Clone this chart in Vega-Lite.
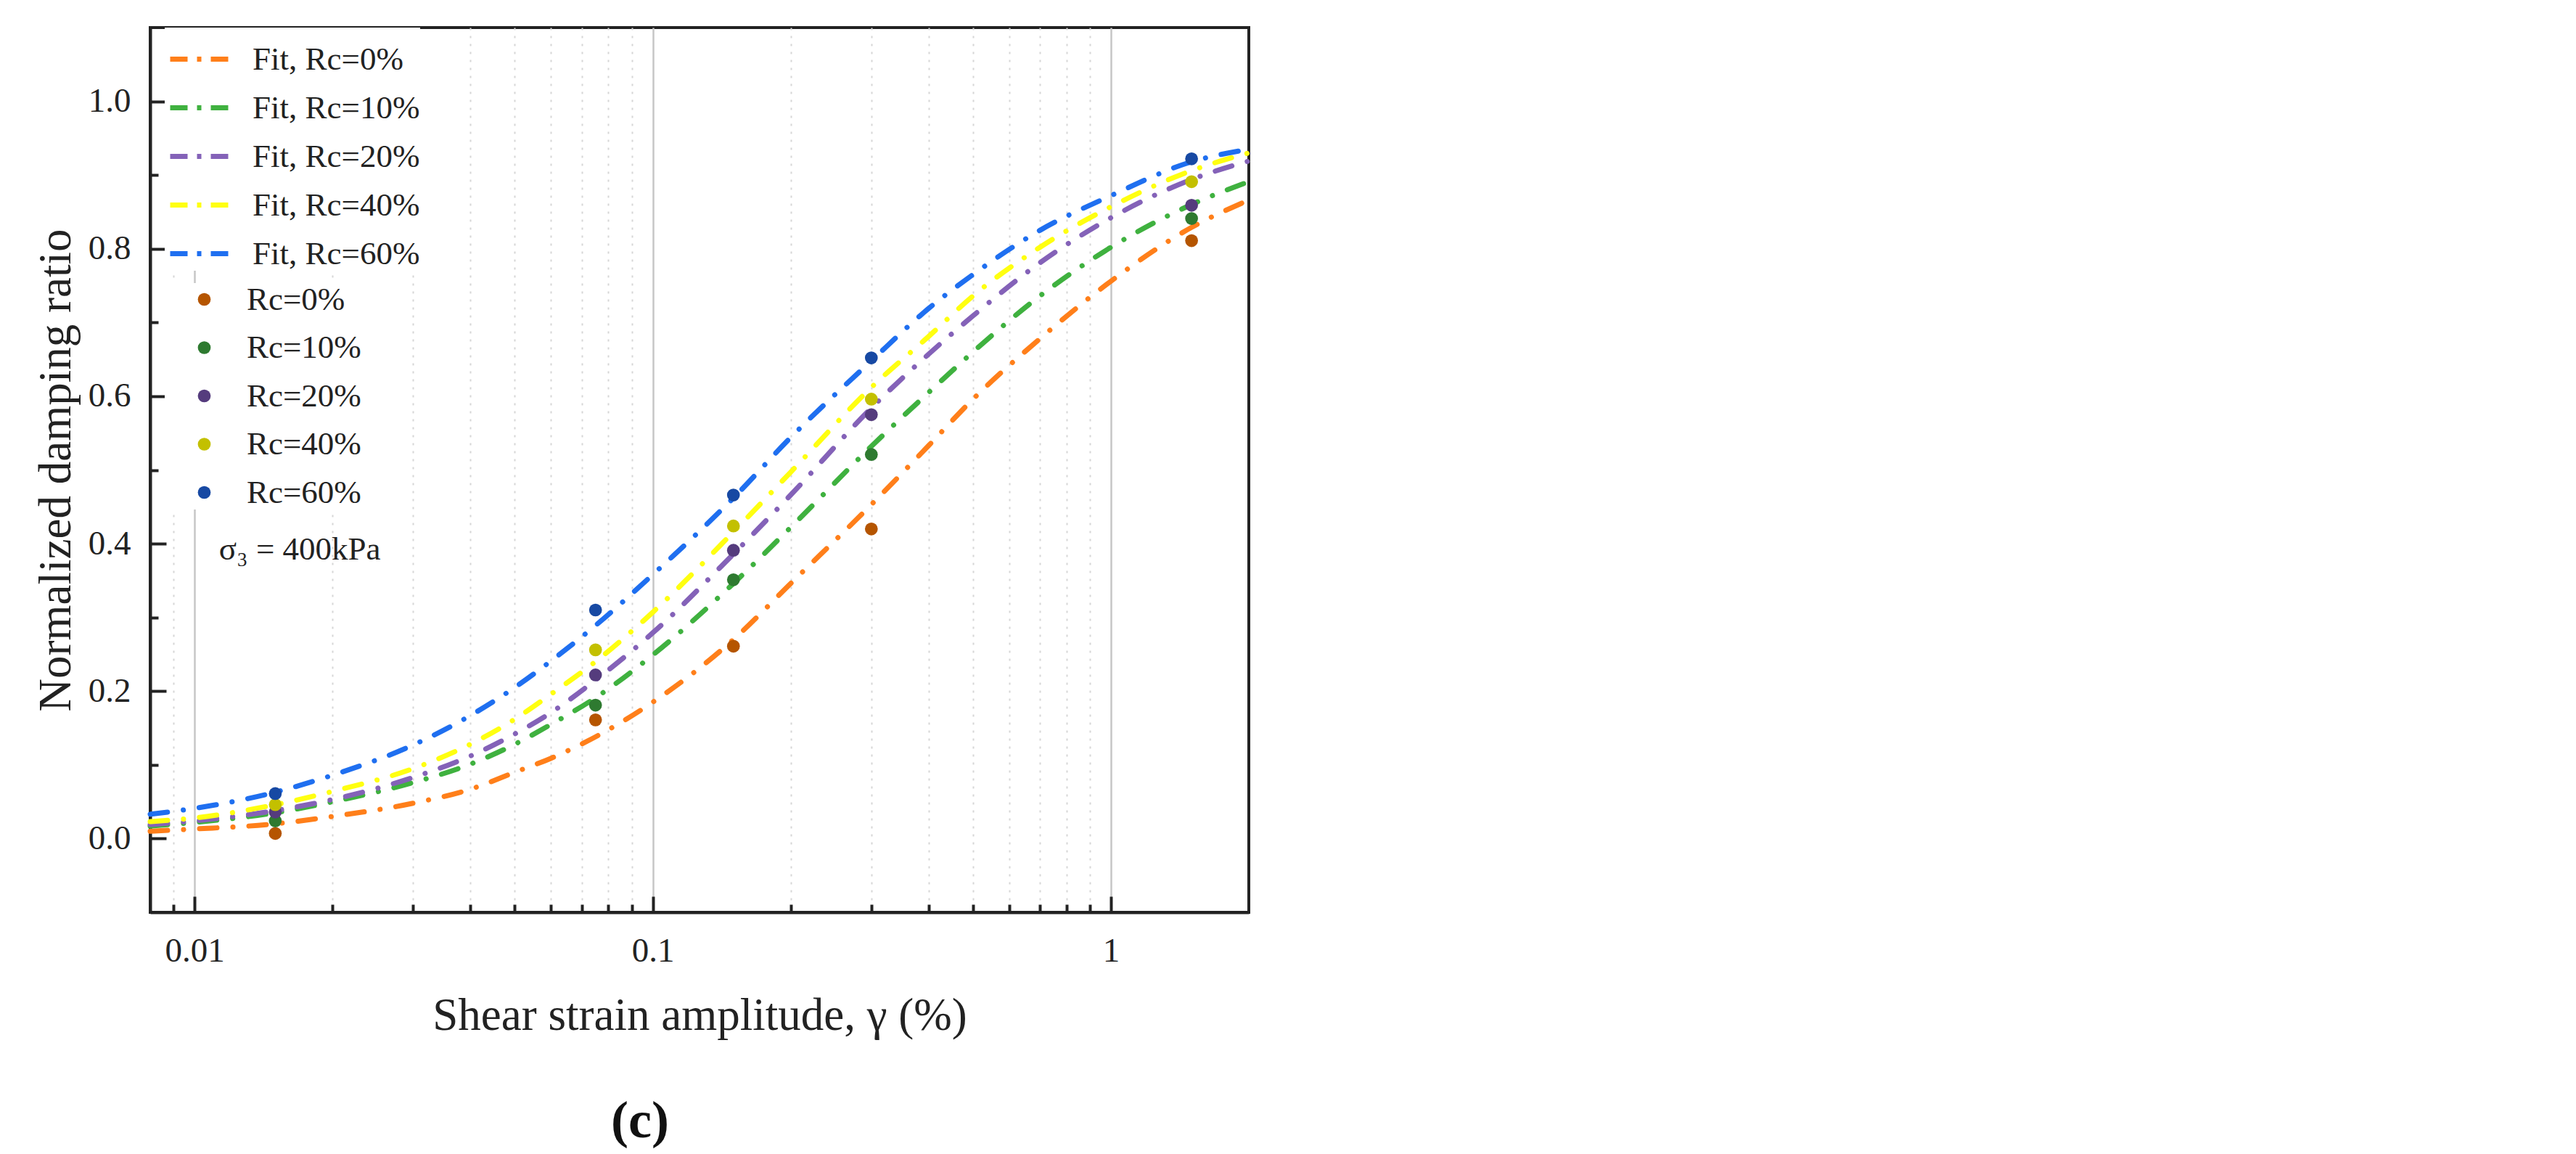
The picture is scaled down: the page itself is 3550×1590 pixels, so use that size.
{
  "$schema": "https://vega.github.io/schema/vega-lite/v6.json",
  "description": "Normalized damping ratio vs shear strain amplitude, fitted curves and test points for five Rc levels.",
  "autosize": {"type": "none"},
  "padding": {"left": 207, "top": 38, "right": 1829, "bottom": 333},
  "width": 1514,
  "height": 1219,
  "background": "white",
  "title": {
    "text": "(c)",
    "orient": "bottom",
    "anchor": "middle",
    "dx": -82,
    "offset": 79,
    "font": "Liberation Serif",
    "fontSize": 72,
    "fontWeight": "bold",
    "color": "#111"
  },
  "datasets": {
    "fits": [
      {"series": "Fit, Rc=0%", "strain": 0.008, "ratio": 0.010},
      {"series": "Fit, Rc=0%", "strain": 0.01, "ratio": 0.013},
      {"series": "Fit, Rc=0%", "strain": 0.015, "ratio": 0.020},
      {"series": "Fit, Rc=0%", "strain": 0.02, "ratio": 0.030},
      {"series": "Fit, Rc=0%", "strain": 0.03, "ratio": 0.048},
      {"series": "Fit, Rc=0%", "strain": 0.04, "ratio": 0.067},
      {"series": "Fit, Rc=0%", "strain": 0.05, "ratio": 0.090},
      {"series": "Fit, Rc=0%", "strain": 0.06, "ratio": 0.109},
      {"series": "Fit, Rc=0%", "strain": 0.075, "ratio": 0.138},
      {"series": "Fit, Rc=0%", "strain": 0.1, "ratio": 0.185},
      {"series": "Fit, Rc=0%", "strain": 0.15, "ratio": 0.270},
      {"series": "Fit, Rc=0%", "strain": 0.2, "ratio": 0.346},
      {"series": "Fit, Rc=0%", "strain": 0.3, "ratio": 0.453},
      {"series": "Fit, Rc=0%", "strain": 0.4, "ratio": 0.533},
      {"series": "Fit, Rc=0%", "strain": 0.5, "ratio": 0.596},
      {"series": "Fit, Rc=0%", "strain": 0.7, "ratio": 0.678},
      {"series": "Fit, Rc=0%", "strain": 1, "ratio": 0.756},
      {"series": "Fit, Rc=0%", "strain": 1.5, "ratio": 0.829},
      {"series": "Fit, Rc=0%", "strain": 2, "ratio": 0.866},
      {"series": "Fit, Rc=10%", "strain": 0.008, "ratio": 0.017},
      {"series": "Fit, Rc=10%", "strain": 0.01, "ratio": 0.022},
      {"series": "Fit, Rc=10%", "strain": 0.015, "ratio": 0.035},
      {"series": "Fit, Rc=10%", "strain": 0.02, "ratio": 0.050},
      {"series": "Fit, Rc=10%", "strain": 0.03, "ratio": 0.076},
      {"series": "Fit, Rc=10%", "strain": 0.04, "ratio": 0.101},
      {"series": "Fit, Rc=10%", "strain": 0.05, "ratio": 0.128},
      {"series": "Fit, Rc=10%", "strain": 0.06, "ratio": 0.155},
      {"series": "Fit, Rc=10%", "strain": 0.075, "ratio": 0.191},
      {"series": "Fit, Rc=10%", "strain": 0.1, "ratio": 0.249},
      {"series": "Fit, Rc=10%", "strain": 0.15, "ratio": 0.346},
      {"series": "Fit, Rc=10%", "strain": 0.2, "ratio": 0.422},
      {"series": "Fit, Rc=10%", "strain": 0.3, "ratio": 0.532},
      {"series": "Fit, Rc=10%", "strain": 0.4, "ratio": 0.605},
      {"series": "Fit, Rc=10%", "strain": 0.5, "ratio": 0.660},
      {"series": "Fit, Rc=10%", "strain": 0.7, "ratio": 0.736},
      {"series": "Fit, Rc=10%", "strain": 1, "ratio": 0.802},
      {"series": "Fit, Rc=10%", "strain": 1.5, "ratio": 0.860},
      {"series": "Fit, Rc=10%", "strain": 2, "ratio": 0.891},
      {"series": "Fit, Rc=20%", "strain": 0.008, "ratio": 0.019},
      {"series": "Fit, Rc=20%", "strain": 0.01, "ratio": 0.024},
      {"series": "Fit, Rc=20%", "strain": 0.015, "ratio": 0.038},
      {"series": "Fit, Rc=20%", "strain": 0.02, "ratio": 0.053},
      {"series": "Fit, Rc=20%", "strain": 0.03, "ratio": 0.083},
      {"series": "Fit, Rc=20%", "strain": 0.04, "ratio": 0.112},
      {"series": "Fit, Rc=20%", "strain": 0.05, "ratio": 0.142},
      {"series": "Fit, Rc=20%", "strain": 0.06, "ratio": 0.171},
      {"series": "Fit, Rc=20%", "strain": 0.075, "ratio": 0.215},
      {"series": "Fit, Rc=20%", "strain": 0.1, "ratio": 0.279},
      {"series": "Fit, Rc=20%", "strain": 0.15, "ratio": 0.386},
      {"series": "Fit, Rc=20%", "strain": 0.2, "ratio": 0.466},
      {"series": "Fit, Rc=20%", "strain": 0.3, "ratio": 0.584},
      {"series": "Fit, Rc=20%", "strain": 0.4, "ratio": 0.657},
      {"series": "Fit, Rc=20%", "strain": 0.5, "ratio": 0.709},
      {"series": "Fit, Rc=20%", "strain": 0.7, "ratio": 0.781},
      {"series": "Fit, Rc=20%", "strain": 1, "ratio": 0.842},
      {"series": "Fit, Rc=20%", "strain": 1.5, "ratio": 0.894},
      {"series": "Fit, Rc=20%", "strain": 2, "ratio": 0.919},
      {"series": "Fit, Rc=40%", "strain": 0.008, "ratio": 0.023},
      {"series": "Fit, Rc=40%", "strain": 0.01, "ratio": 0.028},
      {"series": "Fit, Rc=40%", "strain": 0.015, "ratio": 0.046},
      {"series": "Fit, Rc=40%", "strain": 0.02, "ratio": 0.064},
      {"series": "Fit, Rc=40%", "strain": 0.03, "ratio": 0.095},
      {"series": "Fit, Rc=40%", "strain": 0.04, "ratio": 0.128},
      {"series": "Fit, Rc=40%", "strain": 0.05, "ratio": 0.162},
      {"series": "Fit, Rc=40%", "strain": 0.06, "ratio": 0.196},
      {"series": "Fit, Rc=40%", "strain": 0.075, "ratio": 0.240},
      {"series": "Fit, Rc=40%", "strain": 0.1, "ratio": 0.307},
      {"series": "Fit, Rc=40%", "strain": 0.15, "ratio": 0.416},
      {"series": "Fit, Rc=40%", "strain": 0.2, "ratio": 0.497},
      {"series": "Fit, Rc=40%", "strain": 0.3, "ratio": 0.612},
      {"series": "Fit, Rc=40%", "strain": 0.4, "ratio": 0.681},
      {"series": "Fit, Rc=40%", "strain": 0.5, "ratio": 0.736},
      {"series": "Fit, Rc=40%", "strain": 0.7, "ratio": 0.802},
      {"series": "Fit, Rc=40%", "strain": 1, "ratio": 0.857},
      {"series": "Fit, Rc=40%", "strain": 1.5, "ratio": 0.906},
      {"series": "Fit, Rc=40%", "strain": 2, "ratio": 0.930},
      {"series": "Fit, Rc=60%", "strain": 0.008, "ratio": 0.033},
      {"series": "Fit, Rc=60%", "strain": 0.01, "ratio": 0.041},
      {"series": "Fit, Rc=60%", "strain": 0.015, "ratio": 0.063},
      {"series": "Fit, Rc=60%", "strain": 0.02, "ratio": 0.086},
      {"series": "Fit, Rc=60%", "strain": 0.03, "ratio": 0.127},
      {"series": "Fit, Rc=60%", "strain": 0.04, "ratio": 0.167},
      {"series": "Fit, Rc=60%", "strain": 0.05, "ratio": 0.205},
      {"series": "Fit, Rc=60%", "strain": 0.06, "ratio": 0.241},
      {"series": "Fit, Rc=60%", "strain": 0.075, "ratio": 0.289},
      {"series": "Fit, Rc=60%", "strain": 0.1, "ratio": 0.358},
      {"series": "Fit, Rc=60%", "strain": 0.15, "ratio": 0.462},
      {"series": "Fit, Rc=60%", "strain": 0.2, "ratio": 0.544},
      {"series": "Fit, Rc=60%", "strain": 0.3, "ratio": 0.648},
      {"series": "Fit, Rc=60%", "strain": 0.4, "ratio": 0.719},
      {"series": "Fit, Rc=60%", "strain": 0.5, "ratio": 0.765},
      {"series": "Fit, Rc=60%", "strain": 0.7, "ratio": 0.825},
      {"series": "Fit, Rc=60%", "strain": 1, "ratio": 0.872},
      {"series": "Fit, Rc=60%", "strain": 1.5, "ratio": 0.918},
      {"series": "Fit, Rc=60%", "strain": 2, "ratio": 0.935}
    ],
    "tests": [
      {"series": "Rc=0%", "strain": 0.015, "ratio": 0.007},
      {"series": "Rc=0%", "strain": 0.075, "ratio": 0.161},
      {"series": "Rc=0%", "strain": 0.15, "ratio": 0.261},
      {"series": "Rc=0%", "strain": 0.3, "ratio": 0.420},
      {"series": "Rc=0%", "strain": 1.5, "ratio": 0.811},
      {"series": "Rc=10%", "strain": 0.015, "ratio": 0.024},
      {"series": "Rc=10%", "strain": 0.075, "ratio": 0.181},
      {"series": "Rc=10%", "strain": 0.15, "ratio": 0.351},
      {"series": "Rc=10%", "strain": 0.3, "ratio": 0.521},
      {"series": "Rc=10%", "strain": 1.5, "ratio": 0.841},
      {"series": "Rc=20%", "strain": 0.015, "ratio": 0.036},
      {"series": "Rc=20%", "strain": 0.075, "ratio": 0.222},
      {"series": "Rc=20%", "strain": 0.15, "ratio": 0.391},
      {"series": "Rc=20%", "strain": 0.3, "ratio": 0.575},
      {"series": "Rc=20%", "strain": 1.5, "ratio": 0.859},
      {"series": "Rc=40%", "strain": 0.015, "ratio": 0.046},
      {"series": "Rc=40%", "strain": 0.075, "ratio": 0.256},
      {"series": "Rc=40%", "strain": 0.15, "ratio": 0.424},
      {"series": "Rc=40%", "strain": 0.3, "ratio": 0.596},
      {"series": "Rc=40%", "strain": 1.5, "ratio": 0.891},
      {"series": "Rc=60%", "strain": 0.015, "ratio": 0.061},
      {"series": "Rc=60%", "strain": 0.075, "ratio": 0.310},
      {"series": "Rc=60%", "strain": 0.15, "ratio": 0.466},
      {"series": "Rc=60%", "strain": 0.3, "ratio": 0.652},
      {"series": "Rc=60%", "strain": 1.5, "ratio": 0.922}
    ]
  },
  "layer": [
    {
      "data": {"name": "fits"},
      "mark": {
        "type": "line",
        "interpolate": "monotone",
        "strokeWidth": 7,
        "strokeDash": [24, 22, 0.1, 22],
        "strokeCap": "round"
      },
      "encoding": {
        "x": {
          "field": "strain",
          "type": "quantitative",
          "scale": {"type": "log", "domain": [0.008, 2], "nice": false},
          "axis": {
            "values": [0.009, 0.01, 0.02, 0.03, 0.04, 0.05, 0.06, 0.07, 0.08, 0.09, 0.1, 0.2, 0.3, 0.4, 0.5, 0.6, 0.7, 0.8, 0.9, 1],
            "format": "~g",
            "labelExpr": "indexof([0.01, 0.1, 1], datum.value) >= 0 ? datum.label : ''",
            "grid": true,
            "gridColor": {"condition": {"test": "indexof([0.01, 0.1, 1], datum.value) >= 0", "value": "#c6c6c6"}, "value": "#d6d6d6"},
            "gridDash": {"condition": {"test": "indexof([0.01, 0.1, 1], datum.value) >= 0", "value": []}, "value": [3, 8]},
            "gridWidth": {"condition": {"test": "indexof([0.01, 0.1, 1], datum.value) >= 0", "value": 2.5}, "value": 2},
            "tickSize": {"condition": {"test": "indexof([0.01, 0.1, 1], datum.value) >= 0", "value": -22}, "value": -11},
            "labelPadding": 52,
            "title": "Shear strain amplitude, γ (%)",
            "titlePadding": 35
          }
        },
        "y": {
          "field": "ratio",
          "type": "quantitative",
          "scale": {"domain": [-0.1, 1.1], "nice": false, "zero": false},
          "axis": {
            "values": [0, 0.1, 0.2, 0.3, 0.4, 0.5, 0.6, 0.7, 0.8, 0.9, 1],
            "format": ".1f",
            "labelExpr": "round(datum.value * 10) % 2 === 0 ? datum.label : ''",
            "grid": false,
            "tickSize": {"condition": {"test": "round(datum.value * 10) % 2 === 0", "value": -22}, "value": -11},
            "labelPadding": 49,
            "title": "Normalized damping ratio",
            "titlePadding": 12
          }
        },
        "stroke": {
          "field": "series",
          "type": "nominal",
          "scale": {
            "domain": ["Fit, Rc=0%", "Fit, Rc=10%", "Fit, Rc=20%", "Fit, Rc=40%", "Fit, Rc=60%"],
            "range": ["#ff7f1a", "#3fb13f", "#8462b8", "#ffff10", "#1f6ff0"]
          },
          "legend": {
            "orient": "none",
            "legendX": 20,
            "legendY": 0,
            "title": null,
            "padding": 0,
            "fillColor": "white",
            "symbolType": "stroke",
            "symbolSize": 6400,
            "symbolOffset": 4,
            "symbolStrokeWidth": 7,
            "symbolDash": [24, 13, 6, 13],
            "labelFont": "Liberation Serif",
            "labelFontSize": 45,
            "labelColor": "#222",
            "labelOffset": 30,
            "labelLimit": 400,
            "rowPadding": -1
          }
        }
      }
    },
    {
      "data": {"name": "tests"},
      "mark": {"type": "circle", "size": 314, "opacity": 1},
      "encoding": {
        "x": {"field": "strain", "type": "quantitative"},
        "y": {"field": "ratio", "type": "quantitative"},
        "fill": {
          "field": "series",
          "type": "nominal",
          "scale": {
            "domain": ["Rc=0%", "Rc=10%", "Rc=20%", "Rc=40%", "Rc=60%"],
            "range": ["#b55500", "#2e7a30", "#553c7d", "#c3c000", "#1749a3"]
          },
          "legend": {
            "orient": "none",
            "legendX": 20,
            "legendY": 352,
            "title": null,
            "padding": 0,
            "fillColor": "white",
            "symbolType": "circle",
            "symbolSize": 314,
            "symbolOffset": 32,
            "symbolStrokeWidth": 0,
            "symbolOpacity": 1,
            "labelFont": "Liberation Serif",
            "labelFontSize": 45,
            "labelColor": "#222",
            "labelOffset": 36,
            "labelLimit": 400,
            "rowPadding": 20.5
          }
        }
      }
    },
    {
      "data": {"values": [{"label": "σ₃ = 400kPa", "strain": 0.0113, "ratio": 0.378}]},
      "mark": {
        "type": "text",
        "align": "left",
        "baseline": "alphabetic",
        "font": "Liberation Serif",
        "fontSize": 45,
        "color": "#222"
      },
      "encoding": {
        "x": {"field": "strain", "type": "quantitative"},
        "y": {"field": "ratio", "type": "quantitative"},
        "text": {"field": "label"}
      }
    }
  ],
  "config": {
    "view": {"stroke": "#222", "strokeWidth": 4},
    "font": "Liberation Serif",
    "axis": {
      "labelFont": "Liberation Serif",
      "labelFontSize": 47,
      "labelColor": "#222",
      "titleFont": "Liberation Serif",
      "titleFontSize": 63,
      "titleFontWeight": "normal",
      "titleColor": "#222",
      "domainColor": "#222",
      "domainWidth": 4,
      "tickColor": "#222",
      "tickWidth": 4
    }
  }
}
